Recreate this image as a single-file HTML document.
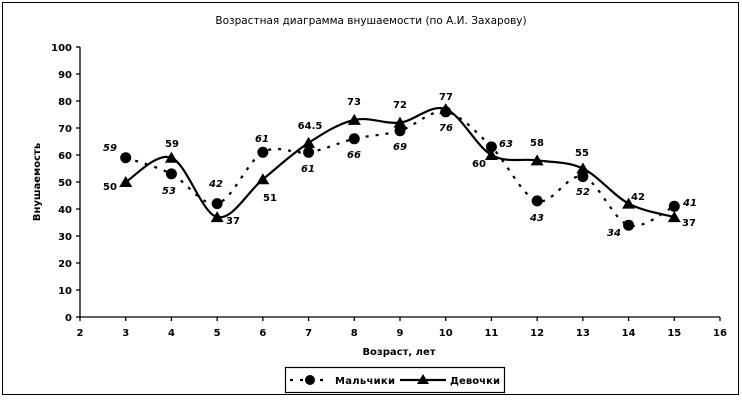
<!DOCTYPE html>
<html><head><meta charset="utf-8"><style>
html,body{margin:0;padding:0;background:#fff}
svg text{font-family:"DejaVu Sans","Liberation Sans",sans-serif;font-weight:bold;font-size:10px;fill:#000}
</style></head><body>
<svg id="s" width="742" height="400" xmlns="http://www.w3.org/2000/svg">
<rect x="2.5" y="2.5" width="736" height="392" fill="#fff" stroke="#000" stroke-width="1"/>
<text x="371" y="24" text-anchor="middle" style="font-weight:normal;font-size:10.5px">Возрастная диаграмма внушаемости (по А.И. Захарову)</text>
<g id="ax" stroke="#000" stroke-width="1.3"></g>
<text transform="translate(40,182) rotate(-90)" text-anchor="middle" style="font-size:10px">Внушаемость</text>
<text x="399" y="355" text-anchor="middle" style="font-size:10px">Возраст, лет</text>
<path id="pb" fill="none" stroke="#000" stroke-width="2.2" stroke-dasharray="3,7"/>
<path id="pg" fill="none" stroke="#000" stroke-width="2.2"/>
<g id="mk"></g>
<g id="lb"></g>
<rect x="285.5" y="367.5" width="219" height="25" fill="#fff" stroke="#000" stroke-width="1.2"/>
<line x1="290" y1="380" x2="330" y2="380" stroke="#000" stroke-width="2.2" stroke-dasharray="3,7"/>
<circle cx="310" cy="380" r="5" fill="#000"/>
<text x="335" y="384" style="font-size:10px" textLength="60">Мальчики</text>
<line x1="400" y1="380" x2="446" y2="380" stroke="#000" stroke-width="2.2"/>
<polygon points="423,374 429,384 417,384" fill="#000"/>
<text x="450" y="384" style="font-size:10px" textLength="50">Девочки</text>
</svg>
<script>
var X=a=>80+(a-2)*640/14, Y=v=>317-2.7*v;
var ax=document.getElementById('ax'),ns='http://www.w3.org/2000/svg',s=document.getElementById('s');
function el(p,t,at,tx){var e=document.createElementNS(ns,t);for(var k in at)e.setAttribute(k,at[k]);if(tx!=null)e.textContent=tx;p.appendChild(e);return e;}
el(ax,'line',{x1:80,y1:47,x2:80,y2:317});el(ax,'line',{x1:80,y1:317,x2:720,y2:317});
for(var v=0;v<=100;v+=10){el(ax,'line',{x1:76,y1:Y(v),x2:80,y2:Y(v)});el(s,'text',{x:72,y:Y(v)+4,'text-anchor':'end'},v);}
for(var a=2;a<=16;a++){el(ax,'line',{x1:X(a),y1:317,x2:X(a),y2:321});el(s,'text',{x:X(a),y:336,'text-anchor':'middle'},a);}
var B=[59,53,42,61,61,66,69,76,63,43,52,34,41],G=[50,59,37,51,64.5,73,72,77,60,58,55,42,37];
function path(d){var p=d.map((v,i)=>[X(i+3),Y(v)]),s='M'+p[0];for(var i=0;i<p.length-1;i++){var p0=p[i-1]||p[i],p1=p[i],p2=p[i+1],p3=p[i+2]||p2;var t=6;s+='C'+(p1[0]+(p2[0]-p0[0])/t)+','+(p1[1]+(p2[1]-p0[1])/t)+' '+(p2[0]-(p3[0]-p1[0])/t)+','+(p2[1]-(p3[1]-p1[1])/t)+' '+p2;}return s;}
document.getElementById('pb').setAttribute('d',path(B));document.getElementById('pg').setAttribute('d',path(G));
var mk=document.getElementById('mk');
B.forEach((v,i)=>el(mk,'circle',{cx:X(i+3),cy:Y(v),r:5.5,fill:'#000'}));
G.forEach((v,i)=>{var x=X(i+3),y=Y(v);el(mk,'polygon',{points:(x)+','+(y-6)+' '+(x+6.5)+','+(y+5)+' '+(x-6.5)+','+(y+5),fill:'#000'});});
var bl=[[110,147],[169,190],[216,183],[262,138],[308,168],[354,154],[400,146],[446,127],[506,143],[537,217],[583,191],[614,232],[690,202]];
var gl=[[110,186],[172,143],[233,220],[270,197],[310,125],[354,101],[400,104],[446,96],[479,163],[537,142],[582,152],[638,196],[689,222]];
var lb=document.getElementById('lb');
B.forEach((v,i)=>el(lb,'text',{x:bl[i][0],y:bl[i][1]+4,'text-anchor':'middle','font-style':'italic'},v));
G.forEach((v,i)=>el(lb,'text',{x:gl[i][0],y:gl[i][1]+4,'text-anchor':'middle'},v));
</script>
</body></html>
